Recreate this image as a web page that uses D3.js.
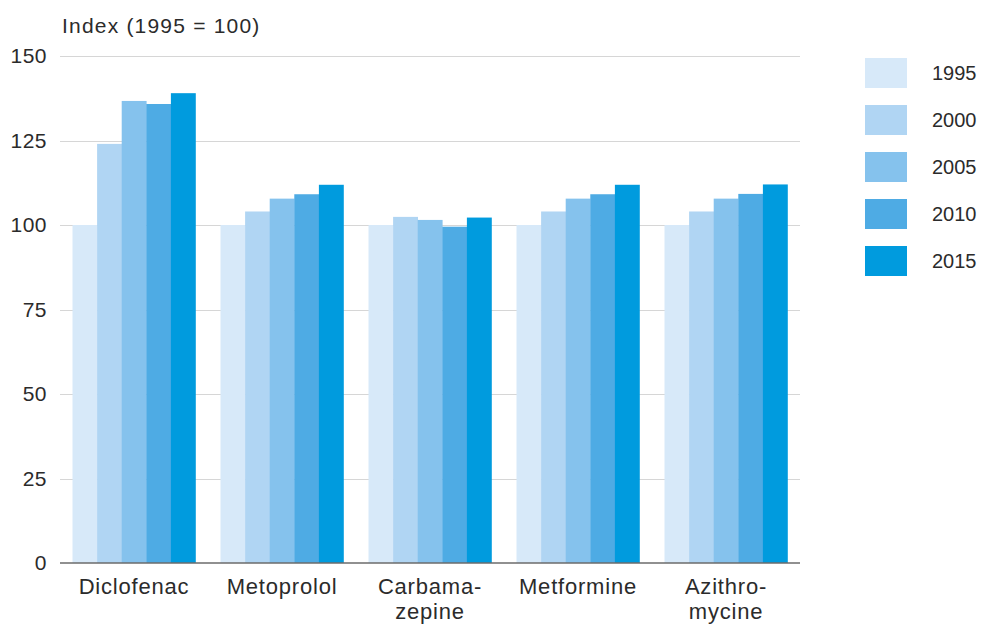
<!DOCTYPE html>
<html><head><meta charset="utf-8">
<script src="https://cdn.jsdelivr.net/npm/d3@7"></script>
<style>
body{margin:0;background:#fff;}
text{font-family:"Liberation Sans",Arial,sans-serif;fill:#2b2b2b;}
</style></head>
<body><svg id="c" width="990" height="634"></svg>
<script>
const categories = [["Diclofenac"],["Metoprolol"],["Carbama-","zepine"],["Metformine"],["Azithro-","mycine"]];
const categoryKeys = ["Diclofenac","Metoprolol","Carbamazepine","Metformine","Azithromycine"];
const years = ["1995","2000","2005","2010","2015"];
const v1995 = [100,100,100,100,100];
const v2000 = [124,104,102.4,104,104];
const v2005 = [136.7,107.8,101.5,107.8,107.8];
const v2010 = [135.8,109.1,99.5,109.1,109.2];
const v2015 = [139,111.9,102.2,111.9,112];
const yTicks = [0,25,50,75,100,125,150];
const colors = ["#d7e9f9","#b0d5f3","#85c2ed","#4eabe4","#009bde"];
const series = [v1995,v2000,v2005,v2010,v2015];

const svg = d3.select("#c");
const y = d3.scaleLinear().domain([0,150]).range([563,56]);
const x0 = d3.scaleBand().domain(categoryKeys).range([60,800]).paddingInner(0.169).paddingOuter(0.0845);
const x1 = d3.scaleBand().domain(years).range([0,x0.bandwidth()]).padding(0);
const color = d3.scaleOrdinal().domain(years).range(colors);

// gridlines
svg.append("g").selectAll("line").data(yTicks.filter(t=>t>0)).join("line")
  .attr("x1",60).attr("x2",800).attr("y1",d=>Math.round(y(d))+0.5).attr("y2",d=>Math.round(y(d))+0.5)
  .attr("stroke","#d6d6d6").attr("stroke-width",1.2);

// y labels
svg.append("g").selectAll("text").data(yTicks).join("text")
  .attr("x",47).attr("y",d=>y(d)).attr("dy","0.35em").attr("text-anchor","end")
  .style("font-size","21px").style("letter-spacing","0.5px").text(d=>d);

// bars
const g = svg.append("g").selectAll("g").data(categoryKeys).join("g")
  .attr("transform",d=>`translate(${x0(d)},0)`);
g.selectAll("rect").data((d,i)=>years.map((yr,j)=>({yr,v:series[j][i]}))).join("rect")
  .attr("x",d=>x1(d.yr)).attr("width",x1.bandwidth()+0.3)
  .attr("y",d=>y(d.v)).attr("height",d=>y(0)-y(d.v))
  .attr("fill",d=>color(d.yr));

// baseline
svg.append("line").attr("x1",60).attr("x2",800).attr("y1",y(0)).attr("y2",y(0))
  .attr("stroke","#6b6b6b").attr("stroke-width",1.5);

// category labels
svg.append("g").selectAll("text").data(categoryKeys).join("text")
  .attr("x",d=>x0(d)+x0.bandwidth()/2).attr("y",594).attr("text-anchor","middle")
  .style("font-size","22px").style("letter-spacing","0.8px")
  .each(function(d,i){
    const t=d3.select(this);
    categories[i].forEach((line,k)=>{
      t.append("tspan").attr("x",x0(d)+x0.bandwidth()/2).attr("dy",k===0?0:25).text(line);
    });
  });

// title
svg.append("text").attr("x",62).attr("y",33).style("font-size","21px").style("letter-spacing","1.2px")
  .text("Index (1995 = 100)");

// legend
const lg = svg.append("g").selectAll("g").data(years).join("g")
  .attr("transform",(d,i)=>`translate(865,${58+i*47})`);
lg.append("rect").attr("width",42).attr("height",30).attr("fill",d=>color(d));
lg.append("text").attr("x",67).attr("y",15).attr("dy","0.35em").style("font-size","20px").text(d=>d);
</script></body></html>
